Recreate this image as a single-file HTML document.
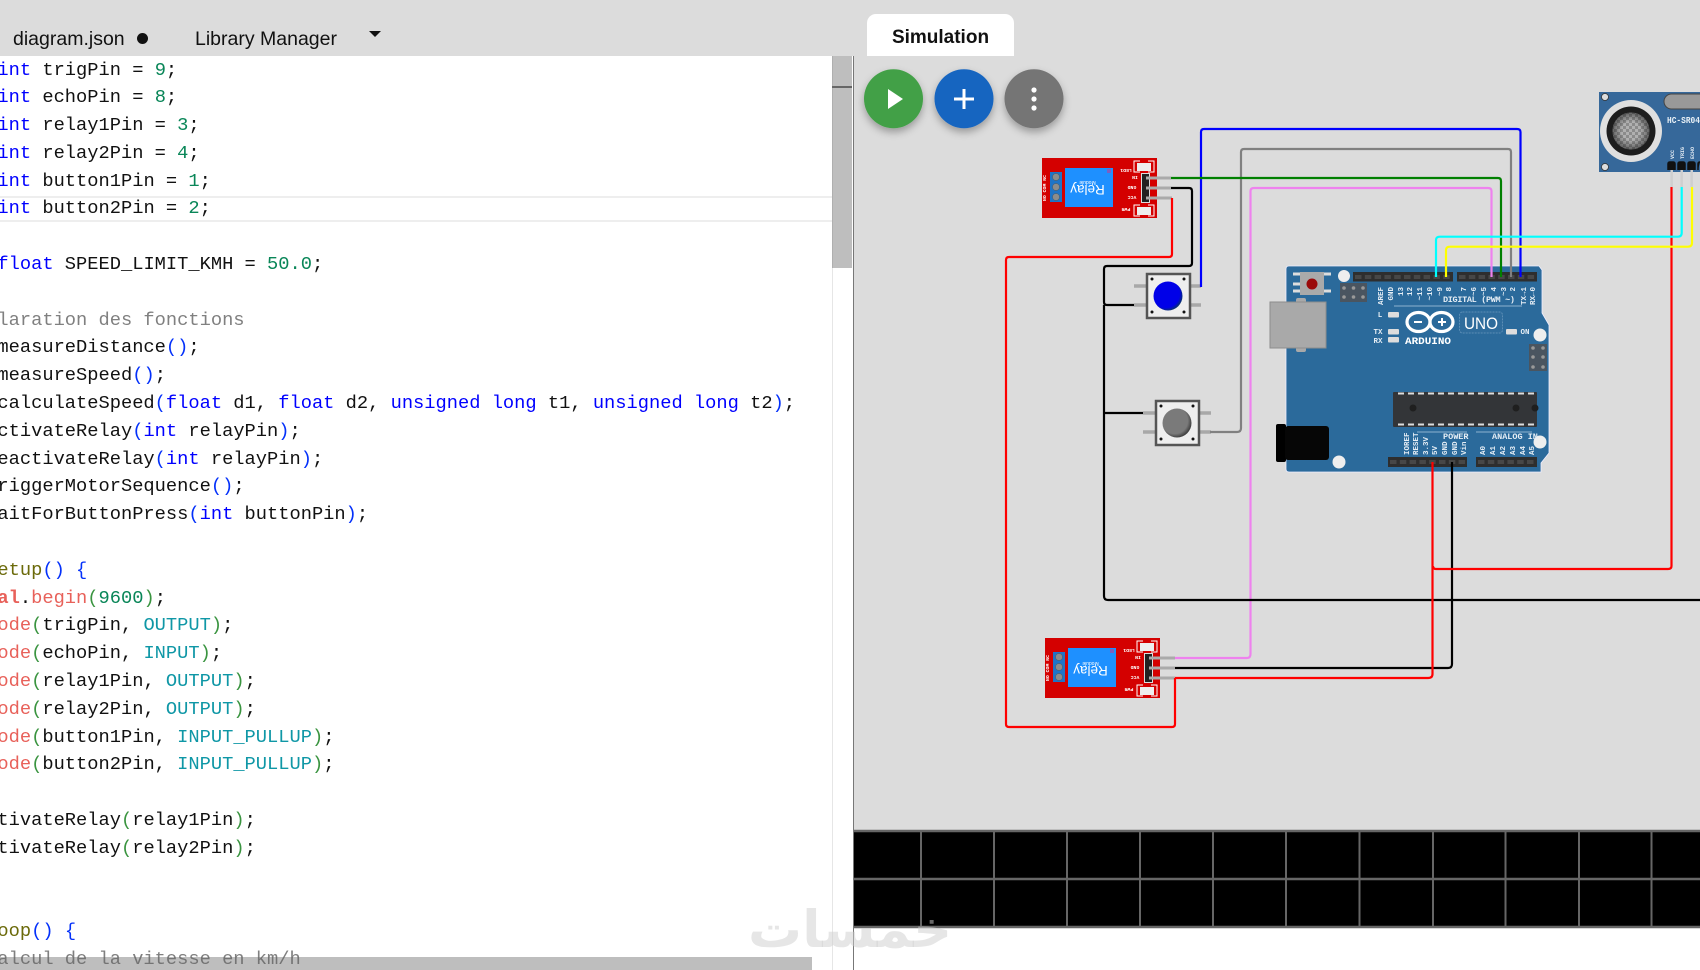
<!DOCTYPE html>
<html lang="en">
<head>
<meta charset="utf-8">
<title>Simulation</title>
<style>
html,body{margin:0;padding:0;width:1700px;height:970px;overflow:hidden;background:#fff}
#root{position:relative;width:1700px;height:970px;overflow:hidden;background:#fff}
.abs{position:absolute}
pre{margin:0;position:absolute;left:-2.6px;top:56.5px;font:18.73px/27.8px "Liberation Mono",monospace;color:#111;white-space:pre}
.k{color:#0000ff}.n{color:#098658}.c{color:#808080}.f{color:#e8615a}.o{color:#6b6a0a}.t{color:#0f97a6}
.b{color:#0431fa}.g{color:#3a9440}
.ui{font-family:"Liberation Sans",Arial,sans-serif;color:#111;white-space:pre}
svg text{font-family:"Liberation Mono",monospace}
</style>
</head>
<body>
<div id="root">
  <div class="abs" style="left:0;top:0;width:1700px;height:56px;background:#dcdcdc"></div>
  <div class="abs" style="left:853px;top:0;width:847px;height:928px;background:#dcdcdc"></div>
  <div class="abs" style="left:0;top:196px;width:832px;height:26px;box-sizing:border-box;border-top:2px solid #eee;border-bottom:2px solid #eee"></div>
  <div class="abs" style="left:832px;top:56px;width:1px;height:914px;background:#e6e6e6"></div>
  <div class="abs" style="left:853px;top:56px;width:1px;height:914px;background:#777"></div>

<pre><span class="k">int</span> trigPin = <span class="n">9</span>;
<span class="k">int</span> echoPin = <span class="n">8</span>;
<span class="k">int</span> relay1Pin = <span class="n">3</span>;
<span class="k">int</span> relay2Pin = <span class="n">4</span>;
<span class="k">int</span> button1Pin = <span class="n">1</span>;
<span class="k">int</span> button2Pin = <span class="n">2</span>;

<span class="k">float</span> SPEED_LIMIT_KMH = <span class="n">50.0</span>;

<span class="c">laration des fonctions</span>
measureDistance<span class="b">()</span>;
measureSpeed<span class="b">()</span>;
calculateSpeed<span class="b">(</span><span class="k">float</span> d1, <span class="k">float</span> d2, <span class="k">unsigned</span> <span class="k">long</span> t1, <span class="k">unsigned</span> <span class="k">long</span> t2<span class="b">)</span>;
ctivateRelay<span class="b">(</span><span class="k">int</span> relayPin<span class="b">)</span>;
eactivateRelay<span class="b">(</span><span class="k">int</span> relayPin<span class="b">)</span>;
riggerMotorSequence<span class="b">()</span>;
aitForButtonPress<span class="b">(</span><span class="k">int</span> buttonPin<span class="b">)</span>;

<span class="o">etup</span><span class="b">()</span> <span class="b">{</span>
<span class="f"><b>al</b></span>.<span class="f">begin</span><span class="g">(</span><span class="n">9600</span><span class="g">)</span>;
<span class="f">ode</span><span class="g">(</span>trigPin, <span class="t">OUTPUT</span><span class="g">)</span>;
<span class="f">ode</span><span class="g">(</span>echoPin, <span class="t">INPUT</span><span class="g">)</span>;
<span class="f">ode</span><span class="g">(</span>relay1Pin, <span class="t">OUTPUT</span><span class="g">)</span>;
<span class="f">ode</span><span class="g">(</span>relay2Pin, <span class="t">OUTPUT</span><span class="g">)</span>;
<span class="f">ode</span><span class="g">(</span>button1Pin, <span class="t">INPUT_PULLUP</span><span class="g">)</span>;
<span class="f">ode</span><span class="g">(</span>button2Pin, <span class="t">INPUT_PULLUP</span><span class="g">)</span>;

tivateRelay<span class="g">(</span>relay1Pin<span class="g">)</span>;
tivateRelay<span class="g">(</span>relay2Pin<span class="g">)</span>;


<span class="o">oop</span><span class="b">()</span> <span class="b">{</span>
<span class="c">alcul de la vitesse en km/h</span></pre>

  <!-- scrollbars -->
  <div class="abs" style="left:832px;top:56px;width:20px;height:212px;background:rgba(100,100,100,.42)"></div>
  <div class="abs" style="left:832px;top:86px;width:20px;height:2px;background:#666"></div>
  <div class="abs" style="left:0;top:957px;width:812px;height:13px;background:rgba(100,100,100,.42)"></div>

  <div class="abs ui" style="left:13px;top:27.5px;font-size:19.5px;line-height:22px">diagram.json</div>
  <div class="abs" style="left:137px;top:32.5px;width:11px;height:11px;border-radius:50%;background:#111"></div>
  <div class="abs ui" style="left:195px;top:27.5px;font-size:19.5px;line-height:22px">Library Manager</div>
  <div class="abs" style="left:369px;top:31px;width:0;height:0;border-left:6px solid transparent;border-right:6px solid transparent;border-top:6px solid #111"></div>

  <div class="abs" style="left:867px;top:14px;width:147px;height:42px;background:#fff;border-radius:9px 9px 0 0"></div>
  <div class="abs ui" style="left:867px;top:27px;width:147px;text-align:center;font-size:19px;line-height:22px;font-weight:bold">Simulation</div>

  <svg class="abs" style="left:0;top:0;filter:blur(.35px)" width="1700" height="970" viewBox="0 0 1700 970">
    <defs>
      <filter id="sh" x="-40%" y="-40%" width="180%" height="190%"><feDropShadow dx="0" dy="4" stdDeviation="4" flood-color="#000" flood-opacity=".3"/></filter>
      <pattern id="mesh" width="6" height="6" patternUnits="userSpaceOnUse"><rect width="6" height="6" fill="#8b8b8b"/><rect width="3" height="3" fill="#b0b0b0"/><rect x="3" y="3" width="3" height="3" fill="#b0b0b0"/></pattern>
      <radialGradient id="shade"><stop offset="0.5" stop-color="#000" stop-opacity="0"/><stop offset="1" stop-color="#000" stop-opacity=".45"/></radialGradient>
      <radialGradient id="bb" cx="42%" cy="42%" r="60%"><stop offset="0.8" stop-color="#0000e8"/><stop offset="1" stop-color="#08306e"/></radialGradient>
      <radialGradient id="gb" cx="42%" cy="42%" r="60%"><stop offset="0.75" stop-color="#7a7a7a"/><stop offset="1" stop-color="#3c3c3c"/></radialGradient>
    </defs>

    <!-- toolbar buttons -->
    <circle cx="893.5" cy="98.7" r="29.5" fill="#43a047" filter="url(#sh)"/>
    <polygon points="888,89 888,109 903,99" fill="#fff"/>
    <circle cx="964" cy="98.7" r="29.5" fill="#1565c0" filter="url(#sh)"/>
    <path d="M964 89V109M954 99H974" stroke="#fff" stroke-width="3" fill="none"/>
    <circle cx="1034" cy="98.7" r="29.5" fill="#757575" filter="url(#sh)"/>
    <circle cx="1034" cy="90" r="2.6" fill="#fff"/><circle cx="1034" cy="99" r="2.6" fill="#fff"/><circle cx="1034" cy="108" r="2.6" fill="#fff"/>

    <!-- grid -->
    <rect x="854" y="830" width="846" height="98" fill="#000"/>
    <path d="M854 831H1700M854 879H1700M854 927H1700" stroke="#666" stroke-width="2.4" fill="none"/>
    <path d="M921 830V927M994 830V927M1067 830V927M1140 830V927M1213 830V927M1286 830V927M1359.5 830V927M1433 830V927M1505.5 830V927M1579 830V927M1651.5 830V927" stroke="#666" stroke-width="2" fill="none"/>

    <!-- Arduino -->
    <path d="M1289 266H1539L1542 270V313L1549 325V453L1541 463V472H1289Q1286 472 1286 469V269Q1286 266 1289 266Z" fill="#2b6a9b" stroke="#eef" stroke-width=".8"/>
    <rect x="1296" y="298" width="10" height="6" rx="2" fill="#a9a9a9"/>
    <rect x="1296" y="346" width="10" height="6" rx="2" fill="#a9a9a9"/>
    <rect x="1270" y="302" width="56" height="46" fill="#a9a9a9" stroke="#8d8d8d"/>
    <rect x="1276" y="424" width="10" height="38" rx="2" fill="#000"/>
    <rect x="1285" y="426" width="44" height="34" rx="3" fill="#060606"/>
    <rect x="1300" y="272" width="24" height="23" fill="#aaa"/>
    <path d="M1293 274h7M1293 284h7M1293 291h7M1324 274h7M1324 291h7" stroke="#ddd" stroke-width="3"/>
    <circle cx="1312" cy="284" r="5.5" fill="#9b0b0b"/>
    <circle cx="1344" cy="276" r="6" fill="#eee"/><circle cx="1540" cy="335" r="6.5" fill="#eee"/><circle cx="1339" cy="462" r="6.5" fill="#eee"/><circle cx="1540" cy="442" r="6.5" fill="#eee"/>
    <rect x="1340" y="283" width="27" height="19" fill="#4a5560"/>
    <g fill="#999"><circle cx="1344" cy="288" r="1.8"/><circle cx="1353.5" cy="288" r="1.8"/><circle cx="1363" cy="288" r="1.8"/><circle cx="1344" cy="297" r="1.8"/><circle cx="1353.5" cy="297" r="1.8"/><circle cx="1363" cy="297" r="1.8"/></g>
    <rect x="1529" y="344" width="18" height="27" fill="#4a5560"/>
    <g fill="#999"><circle cx="1533" cy="348" r="1.8"/><circle cx="1543" cy="348" r="1.8"/><circle cx="1533" cy="357" r="1.8"/><circle cx="1543" cy="357" r="1.8"/><circle cx="1533" cy="367" r="1.8"/><circle cx="1543" cy="367" r="1.8"/></g>
    <!-- headers -->
    <g fill="#2e2e2e"><rect x="1353" y="272" width="100" height="9.5"/><rect x="1457" y="272" width="80" height="9.5"/><rect x="1388" y="457" width="79" height="10"/><rect x="1476" y="457" width="61" height="10"/></g>
    <g stroke="#474747" stroke-width="4" stroke-dasharray="6.5 3.3" fill="none"><path d="M1355 277H1452M1459 277H1536M1390 462H1466M1478 462H1536"/></g>
    <!-- chip -->
    <rect x="1393" y="392" width="144" height="35" rx="1" fill="#333538"/>
    <path d="M1398 393.5H1536M1398 424.5H1536" stroke="#ddd" stroke-width="2" stroke-dasharray="6 4" fill="none"/>
    <circle cx="1413" cy="408" r="3.5" fill="#1f1f1f"/><circle cx="1516" cy="408" r="3.5" fill="#1f1f1f"/><circle cx="1535" cy="408" r="3.5" fill="#1f1f1f"/>
    <!-- logo -->
    <g fill="none" stroke="#fff" stroke-width="3.2"><ellipse cx="1418.5" cy="322" rx="11.5" ry="9.5"/><ellipse cx="1441.5" cy="322" rx="11.5" ry="9.5"/></g>
    <path d="M1414 322h8M1438 322h8M1442 318v8" stroke="#fff" stroke-width="2" fill="none"/>
    <text x="1405" y="344" font-size="10.5" font-weight="bold" fill="#fff" textLength="46" lengthAdjust="spacingAndGlyphs">ARDUINO</text>
    <rect x="1459.5" y="312" width="43" height="21" rx="3" fill="#2f6c9c" stroke="#5b8db5" stroke-width="1" stroke-dasharray="2 1"/>
    <text x="1464" y="329" style="font-family:'Liberation Sans',sans-serif" font-size="17" fill="#fff" textLength="34" lengthAdjust="spacingAndGlyphs">UNO</text>
    <text x="1443" y="302" font-size="8.5" font-weight="bold" fill="#e6eef5" textLength="72" lengthAdjust="spacing">DIGITAL (PWM ~)</text>
    <path d="M1394 306H1522M1417 432H1467M1476 432H1532" stroke="#8eb2cf" stroke-width="1" fill="none"/>
    <g font-size="7.5" font-weight="bold" fill="#e6eef5">
      <text x="1380" y="317" text-anchor="middle">L</text>
      <text x="1378" y="334" text-anchor="middle">TX</text>
      <text x="1378" y="343" text-anchor="middle">RX</text>
      <text x="1525" y="334" text-anchor="middle">ON</text>
      <text x="1443" y="439" font-size="8.5">POWER</text>
      <text x="1492" y="439" font-size="8.5">ANALOG IN</text>
    </g>
    <g fill="#ddd"><rect x="1388" y="312" width="11" height="5.5" rx="1"/><rect x="1388" y="329" width="11" height="5.5" rx="1"/><rect x="1388" y="337" width="11" height="5.5" rx="1"/><rect x="1506" y="329" width="11" height="5.5" rx="1"/></g>
    <g font-size="7.5" font-weight="bold" fill="#e6eef5" text-anchor="end">
      <text transform="translate(1383,287) rotate(-90)">AREF</text>
      <text transform="translate(1393,287) rotate(-90)">GND</text>
      <text transform="translate(1403,287) rotate(-90)">13</text>
      <text transform="translate(1412,287) rotate(-90)">12</text>
      <text transform="translate(1422,287) rotate(-90)">~11</text>
      <text transform="translate(1432,287) rotate(-90)">~10</text>
      <text transform="translate(1442,287) rotate(-90)">~9</text>
      <text transform="translate(1451,287) rotate(-90)">8</text>
      <text transform="translate(1466,287) rotate(-90)">7</text>
      <text transform="translate(1476,287) rotate(-90)">~6</text>
      <text transform="translate(1486,287) rotate(-90)">~5</text>
      <text transform="translate(1496,287) rotate(-90)">4</text>
      <text transform="translate(1506,287) rotate(-90)">~3</text>
      <text transform="translate(1515,287) rotate(-90)">2</text>
      <text transform="translate(1526,287) rotate(-90)">TX→1</text>
      <text transform="translate(1535,287) rotate(-90)">RX←0</text>
    </g>
    <g font-size="7.5" font-weight="bold" fill="#e6eef5">
      <text transform="translate(1409,455) rotate(-90)">IOREF</text>
      <text transform="translate(1418,455) rotate(-90)">RESET</text>
      <text transform="translate(1428,455) rotate(-90)">3.3V</text>
      <text transform="translate(1437,455) rotate(-90)">5V</text>
      <text transform="translate(1447,455) rotate(-90)">GND</text>
      <text transform="translate(1457,455) rotate(-90)">GND</text>
      <text transform="translate(1466,455) rotate(-90)">Vin</text>
      <text transform="translate(1485,455) rotate(-90)">A0</text>
      <text transform="translate(1495,455) rotate(-90)">A1</text>
      <text transform="translate(1505,455) rotate(-90)">A2</text>
      <text transform="translate(1515,455) rotate(-90)">A3</text>
      <text transform="translate(1525,455) rotate(-90)">A4</text>
      <text transform="translate(1534,455) rotate(-90)">A5</text>
    </g>

    <!-- Ultrasonic sensor -->
    <rect x="1599" y="92" width="101" height="80" fill="#36689a"/>
    <circle cx="1605" cy="97" r="3.5" fill="#ddd" stroke="#333" stroke-width=".8"/><circle cx="1605" cy="167" r="3.5" fill="#ddd" stroke="#333" stroke-width=".8"/>
    <circle cx="1631" cy="131" r="31" fill="#dfdfdf"/>
    <circle cx="1631" cy="131" r="24.5" fill="#1d1d1d"/>
    <circle cx="1631" cy="131" r="18.5" fill="url(#mesh)"/>
    <circle cx="1631" cy="131" r="18.5" fill="url(#shade)"/>
    <rect x="1664" y="94" width="50" height="15" rx="7.5" fill="#999" stroke="#444"/>
    <text x="1667" y="123" font-size="9.5" font-weight="bold" fill="#e8f0f6" textLength="33" lengthAdjust="spacingAndGlyphs">HC-SR04</text>
    <g font-size="5" font-weight="bold" fill="#e6eef5"><text transform="translate(1674,159) rotate(-90)">VCC</text><text transform="translate(1684,159) rotate(-90)">TRIG</text><text transform="translate(1694,159) rotate(-90)">ECHO</text></g>
    <path d="M1671.7 167V187M1681.7 167V187M1691.7 167V187" stroke="#cfcfcf" stroke-width="2.5" fill="none"/>
    <path d="M1668 170V164Q1668 162 1670 162H1673Q1675 162 1675 164V170M1678 170V164Q1678 162 1680 162H1683Q1685 162 1685 164V170M1688 170V164Q1688 162 1690 162H1693Q1695 162 1695 164V170M1698 170V164Q1698 162 1700 162" fill="#111" stroke="#111" stroke-width="1.5"/>

    <!-- Relay 1 -->
    <g>
      <rect x="1042" y="158" width="115" height="60" fill="#d40000"/>
      <rect x="1050" y="172" width="12" height="30" fill="#1e74c8"/>
      <g fill="#8c8c8c" stroke="#555" stroke-width=".5"><circle cx="1056" cy="177" r="3.5"/><circle cx="1056" cy="187" r="3.5"/><circle cx="1056" cy="197" r="3.5"/></g>
      <rect x="1065" y="168" width="48" height="39" fill="#1e90ff"/>
      <rect x="1107" y="169" width="4" height="4" fill="#7d5fc0"/>
      <text transform="translate(1087.5,185) rotate(180)" text-anchor="middle" style="font-family:'Liberation Sans',sans-serif" font-size="13.5" fill="#fff">Relay</text>
      <text transform="translate(1087.5,181) rotate(180)" text-anchor="middle" style="font-family:'Liberation Sans',sans-serif" font-size="5" fill="#fff">Module</text>
      <g font-size="4.8" font-weight="bold" fill="#fff" text-anchor="middle">
        <text transform="translate(1046,188) rotate(-90)">NO COM NC</text>
        <text transform="translate(1126,169) rotate(180)">LED1</text>
        <text transform="translate(1135,176) rotate(180)">IN</text>
        <text transform="translate(1132,186) rotate(180)">GND</text>
        <text transform="translate(1132,196) rotate(180)">VCC</text>
        <text transform="translate(1126,208) rotate(180)">PWR</text>
      </g>
      <rect x="1137" y="163" width="14" height="8" fill="#eee"/><rect x="1137" y="207" width="14" height="8" fill="#eee"/>
      <path d="M1140 161H1134V172H1140M1148 161H1154V172H1148M1140 205H1134V216H1140M1148 205H1154V216H1148" stroke="#fff" stroke-width="1" fill="none"/>
      <rect x="1141.5" y="173.5" width="8" height="29" fill="#222" stroke="#ddd" stroke-width="1"/>
      <path d="M1146 178H1171M1146 188H1171M1146 198H1172" stroke="#aaa" stroke-width="3" fill="none"/>
    </g>
    <!-- Relay 2 -->
    <g>
      <rect x="1045" y="638" width="115" height="60" fill="#d40000"/>
      <rect x="1053" y="652" width="12" height="30" fill="#1e74c8"/>
      <g fill="#8c8c8c" stroke="#555" stroke-width=".5"><circle cx="1059" cy="657" r="3.5"/><circle cx="1059" cy="667" r="3.5"/><circle cx="1059" cy="677" r="3.5"/></g>
      <rect x="1068" y="648" width="48" height="39" fill="#1e90ff"/>
      <rect x="1110" y="649" width="4" height="4" fill="#7d5fc0"/>
      <text transform="translate(1090.5,666) rotate(180)" text-anchor="middle" style="font-family:'Liberation Sans',sans-serif" font-size="13.5" fill="#fff">Relay</text>
      <text transform="translate(1090.5,662) rotate(180)" text-anchor="middle" style="font-family:'Liberation Sans',sans-serif" font-size="5" fill="#fff">Module</text>
      <g font-size="4.8" font-weight="bold" fill="#fff" text-anchor="middle">
        <text transform="translate(1049,668) rotate(-90)">NO COM NC</text>
        <text transform="translate(1129,649) rotate(180)">LED1</text>
        <text transform="translate(1138,656) rotate(180)">IN</text>
        <text transform="translate(1135,666) rotate(180)">GND</text>
        <text transform="translate(1135,676) rotate(180)">VCC</text>
        <text transform="translate(1129,688) rotate(180)">PWR</text>
      </g>
      <rect x="1140" y="643" width="14" height="8" fill="#eee"/><rect x="1140" y="687" width="14" height="8" fill="#eee"/>
      <path d="M1143 641H1137V652H1143M1151 641H1157V652H1151M1143 685H1137V696H1143M1151 685H1157V696H1151" stroke="#fff" stroke-width="1" fill="none"/>
      <rect x="1144.5" y="653.5" width="8" height="29" fill="#222" stroke="#ddd" stroke-width="1"/>
      <path d="M1149 658H1175M1149 668H1175M1149 678H1175" stroke="#aaa" stroke-width="3" fill="none"/>
    </g>

    <!-- Push buttons -->
    <path d="M1134 286H1146M1134 305H1146M1190 286H1201M1190 305H1201" stroke="#a8a8a8" stroke-width="3.5" fill="none"/>
    <rect x="1147" y="274" width="43" height="44" fill="#eee" stroke="#555" stroke-width="2.5"/>
    <g fill="#111"><circle cx="1152" cy="279" r="1.5"/><circle cx="1184" cy="279" r="1.5"/><circle cx="1152" cy="312" r="1.5"/><circle cx="1184" cy="312" r="1.5"/></g>
    <circle cx="1168" cy="296" r="14.5" fill="url(#bb)"/>
    <path d="M1143 413H1155M1143 432H1155M1200 413H1211M1200 432H1211" stroke="#a8a8a8" stroke-width="3.5" fill="none"/>
    <rect x="1156" y="401" width="43" height="44" fill="#eee" stroke="#555" stroke-width="2.5"/>
    <g fill="#111"><circle cx="1161" cy="406" r="1.5"/><circle cx="1193" cy="406" r="1.5"/><circle cx="1161" cy="439" r="1.5"/><circle cx="1193" cy="439" r="1.5"/></g>
    <circle cx="1177" cy="423" r="14.5" fill="url(#gb)"/>

    <!-- Wires -->
    <g fill="none" stroke-width="2.2" stroke-linejoin="round">
      <path stroke="#808080" d="M1210 432H1237Q1241 432 1241 428V152Q1241 149 1244 149H1508Q1511 149 1511 152V277"/>
      <path stroke="#ee82ee" d="M1175 658H1247Q1250.5 658 1250.5 654V191Q1250.5 188 1254 188H1488Q1491.5 188 1491.5 191V277"/>
      <path stroke="#0000ff" d="M1201 287V132Q1201 129 1204 129H1517Q1520.5 129 1520.5 132V277"/>
      <path stroke="#008000" d="M1171 178H1498Q1501 178 1501 181V277"/>
      <path stroke="#ff0000" d="M1175 678V724Q1175 727 1172 727H1009Q1006 727 1006 724V260Q1006 257 1009 257H1169Q1172 257 1172 254V198"/>
      <path stroke="#000" d="M1171 188H1189Q1192 188 1192 191V263Q1192 266 1189 266H1107Q1104 266 1104 269V302Q1104 305 1107 305H1134"/>
      <path stroke="#000" d="M1104 305V596Q1104 600 1108 600H1700M1104 413H1143"/>
      <path stroke="#000" d="M1175 668H1448Q1452 668 1452 664V462"/>
      <path stroke="#ff0000" d="M1175 678H1428Q1432.5 678 1432.5 674V462"/>
      <path stroke="#ff0000" d="M1671.5 187V566Q1671.5 569 1668 569H1436Q1433 569 1433 566"/>
      <path stroke="#00ffff" d="M1681.7 187V233Q1681.7 236.7 1678 236.7H1440Q1436 236.7 1436 240V277"/>
      <path stroke="#ffff00" d="M1692 187V243Q1692 246.7 1688 246.7H1450Q1446 246.7 1446 250V277"/>
    </g>

    <!-- watermark -->
    <text x="748" y="947" direction="rtl" style="font-family:'DejaVu Sans',sans-serif" font-weight="bold" font-size="51" fill="rgba(205,205,205,.5)" textLength="204" lengthAdjust="spacingAndGlyphs" dx="204">خمسات</text>
  </svg>
</div>
</body>
</html>
